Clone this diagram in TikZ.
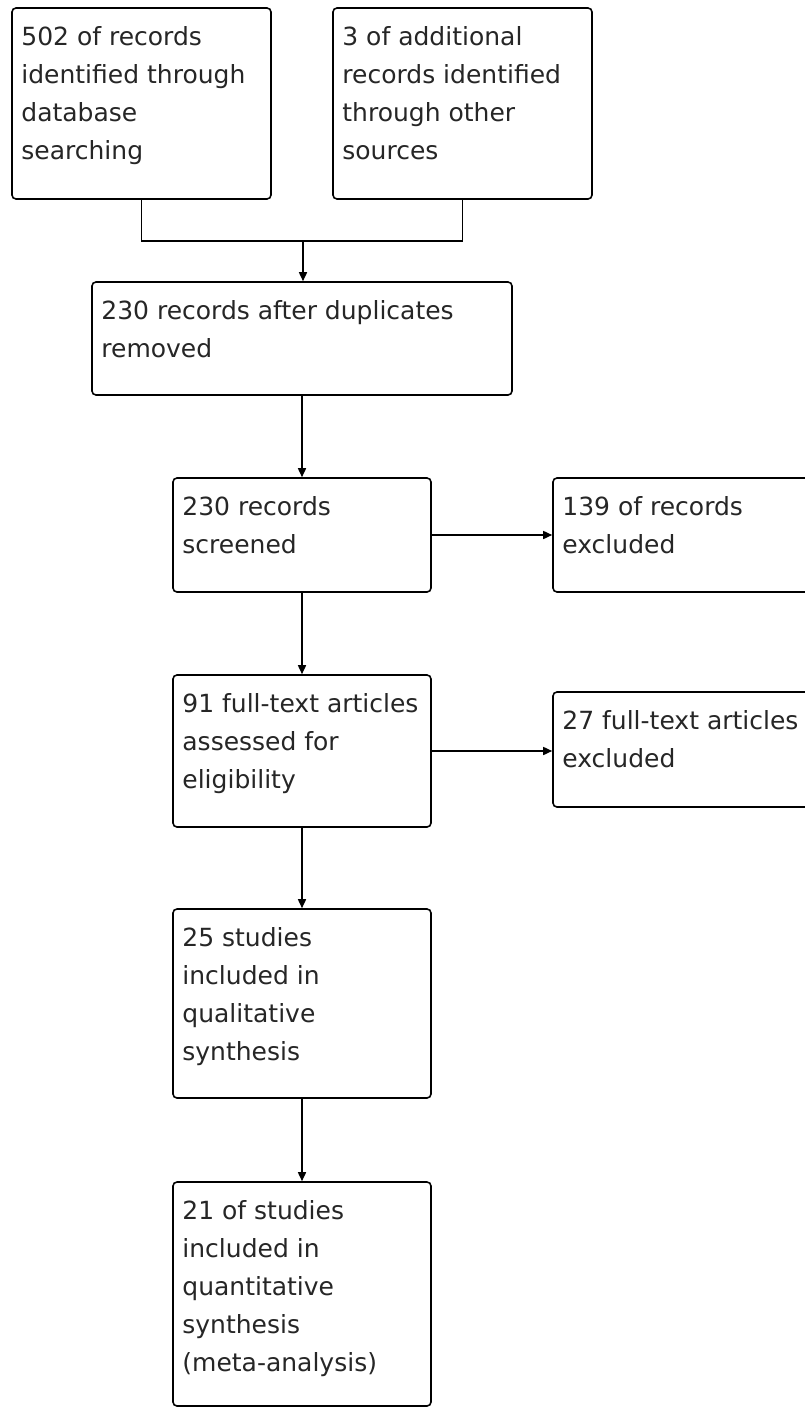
\documentclass[tikz,border=0pt]{standalone}
\usepackage{fontspec}
\setmainfont{DejaVu Sans}
\usetikzlibrary{arrows.meta,fit}
\tikzset{
  boxnode/.style={draw=black, line width=1.6pt, rounded corners=4pt, inner sep=0pt},
  txt/.style={anchor=north west, inner sep=0pt, align=left, font=\fontsize{25}{38}\selectfont, text=black!85},
  conn/.style={line width=1.6pt, draw=black},
  arr/.style={conn, -{Triangle[length=9pt,width=8pt]}}
}
\begin{document}
\begin{tikzpicture}[x=1pt,y=-1pt]
\clip (0,0) rectangle (805,1408);
\fill[white] (0,0) rectangle (805,1408);
% boxes
\node[boxnode, fit={(12,8)(271,199)}] (b1) {};
\node[boxnode, fit={(333,8)(592,199)}] (b2) {};
\node[boxnode, fit={(92,282)(512,395)}] (b3) {};
\node[boxnode, fit={(173,478)(431,592)}] (b4) {};
\node[boxnode, fit={(553,478)(820,592)}] (b5) {};
\node[boxnode, fit={(173,675)(431,827)}] (b6) {};
\node[boxnode, fit={(553,692)(820,807)}] (b7) {};
\node[boxnode, fit={(173,909)(431,1098)}] (b8) {};
\node[boxnode, fit={(173,1182)(431,1406)}] (b9) {};
% texts
\node[txt] (t1) at ([shift={(10,19)}]b1.north west) {502 of records\\identified through\\database\\searching};
\node[txt] (t2) at ([shift={(10,19)}]b2.north west) {3 of additional\\records identified\\through other\\sources};
\node[txt] (t3) at ([shift={(10,19)}]b3.north west) {230 records after duplicates\\removed};
\node[txt] (t4) at ([shift={(10,19)}]b4.north west) {230 records\\screened};
\node[txt] (t5) at ([shift={(10,19)}]b5.north west) {139 of records\\excluded};
\node[txt] (t6) at ([shift={(10,19)}]b6.north west) {91 full-text articles\\assessed for\\eligibility};
\node[txt] (t7) at ([shift={(10,19)}]b7.north west) {27 full-text articles\\excluded};
\node[txt] (t8) at ([shift={(10,19)}]b8.north west) {25 studies\\included in\\qualitative\\synthesis};
\node[txt] (t9) at ([shift={(10,19)}]b9.north west) {21 of studies\\included in\\quantitative\\synthesis\\(meta-analysis)};
% connectors
\coordinate (j) at (303,241);
\draw[conn] (b1.south) |- (j) -| (b2.south);
\draw[arr] (j) -- (j |- b3.north);
\draw[arr] (b3.south) -- (b4.north);
\draw[arr] (b4.east) -- (b4.east -| b5.west);
\draw[arr] (b4.south) -- (b6.north);
\draw[arr] (b6.east) -- (b6.east -| b7.west);
\draw[arr] (b6.south) -- (b8.north);
\draw[arr] (b8.south) -- (b9.north);
\end{tikzpicture}
\end{document}
